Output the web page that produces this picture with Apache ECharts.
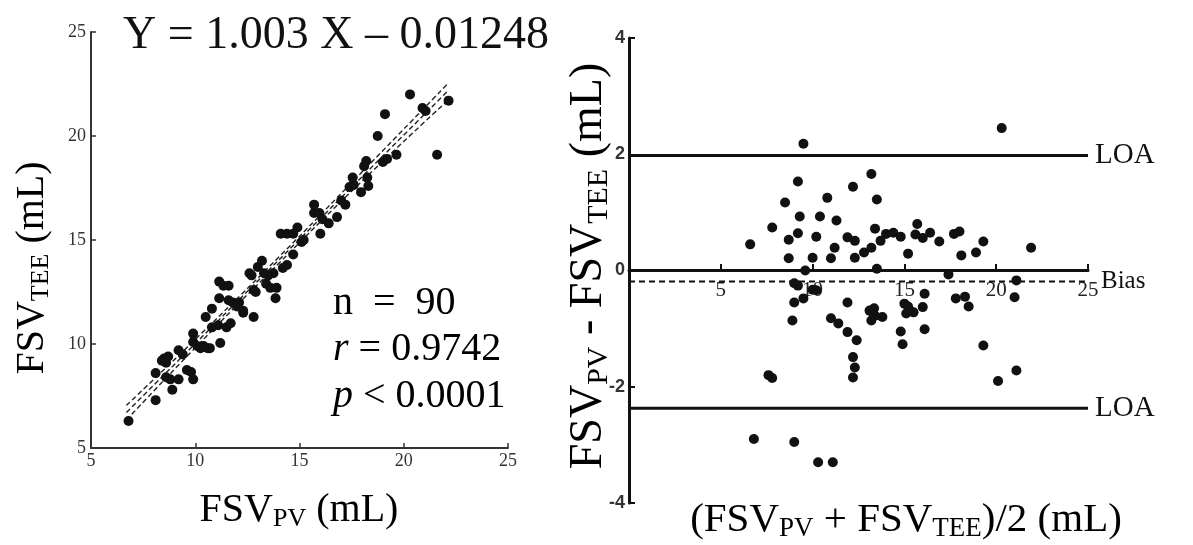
<!DOCTYPE html>
<html><head><meta charset="utf-8">
<script src="https://cdn.jsdelivr.net/npm/echarts@6/dist/echarts.min.js"></script>
<style>html,body{margin:0;padding:0;background:#fff}#c{width:1193px;height:545px}</style>
</head><body><div id="c"></div>
<script>
const serif = "'Liberation Serif','Times New Roman',serif";
const sans = "'Liberation Sans',Arial,sans-serif";

// ---- Left panel: FSV_PV vs FSV_TEE ----
const pvValues = [6.8,8.1,8.9,8.1,8.6,8.8,9.2,9.9,9.6,9.8,8.5,8.7,8.6,9.2,9.4,9.9,9.9,10.1,10.25,10.6,
  10.7,11.2,10.5,10.8,11.1,11.5,10.8,11.15,11.15,11.35,11.6,11.6,11.8,12.0,12.1,12.3,12.3,12.8,12.8,12.6,
  12.7,13.0,13.2,13.5,13.75,13.4,13.6,13.9,13.85,14.2,14.4,14.7,15.1,14.1,14.4,14.7,14.9,16.0,16.4,16.8,
  15.7,15.95,15.7,17.2,17.95,17.4,17.6,18.3,17.55,18.25,18.1,18.2,19.0,19.65,21.6,18.75,19.1,20.9,21.05,20.3,
  22.15,8.4,10.4,11.7,13.3,15.2,12.9,16.1,17.0,19.2];
const teeValues = [6.3,7.3,7.8,8.6,8.4,8.3,8.3,8.3,8.75,8.65,9.3,9.4,9.1,9.7,9.5,10.5,10.1,9.9,9.8,9.8,
  9.8,10.05,11.3,10.8,10.9,10.8,11.7,12.2,13.0,12.8,12.8,12.1,12.0,11.8,12.0,11.6,11.5,11.3,12.6,13.4,
  13.3,13.7,14.0,13.3,13.4,12.9,12.7,12.7,12.2,13.65,13.8,14.3,14.9,15.3,15.3,15.3,15.6,15.3,15.8,16.1,
  16.3,16.3,16.7,16.7,17.3,17.55,17.65,17.6,18.0,18.0,18.55,18.8,18.75,19.1,19.1,20.0,21.05,21.35,21.2,22.0,
  21.7,9.2,9.9,11.0,13.4,15.0,12.5,16.0,16.9,18.9];
const fitX = [6.7, 22.1];
const fitY = [6.71, 22.15];
const bandX = [6.7, 10, 14, 18, 22.1];
const bandUpper = [7.05, 10.22, 14.17, 18.27, 22.5];
const bandLower = [6.35, 9.82, 13.87, 17.83, 21.7];
const leftTicks = [5, 10, 15, 20, 25];

// ---- Right panel: Bland-Altman ----
const baMean = [9.5,20.3,13.2,9.2,12.2,13.5,10.8,8.5,9.3,10.4,11.3,7.8,9.2,13.4,6.6,8.7,10.2,11.9,12.3,11.2,
  13.7,14.0,14.4,14.8,12.8,13.2,8.7,10.0,11.0,12.3,15.2,9.6,13.5,15.7,15.6,16.0,16.4,16.9,17.7,18.0,
  18.1,18.9,19.3,21.9,17.4,21.1,21.0,9.0,10.0,9.0,9.5,11.9,16.1,16.0,17.8,18.3,18.5,8.9,11.0,11.4,
  11.9,12.4,12.2,12.3,12.2,13.1,13.3,13.2,13.8,13.35,14.8,14.9,15.0,15.3,15.1,15.5,7.6,7.8,6.8,9.0,
  10.3,11.1,19.3,20.1,21.1,16.1,9.2,10.2,15.2,13.4];
const baDiff = [2.18,2.45,1.66,1.53,1.44,1.22,1.25,1.17,0.93,0.93,0.86,0.74,0.64,0.72,0.45,0.53,0.58,0.57,0.51,0.39,
  0.51,0.63,0.65,0.58,0.31,0.39,0.21,0.22,0.21,0.22,0.29,0.0,0.03,0.80,0.62,0.56,0.65,0.50,0.63,0.67,
  0.26,0.31,0.50,0.39,-0.07,-0.17,-0.46,-0.22,-0.33,-0.55,-0.48,-0.55,-0.40,-0.63,-0.48,-0.45,-0.62,-0.86,-0.82,-0.91,
  -1.06,-1.20,-1.49,-1.67,-1.84,-0.69,-0.74,-0.86,-0.80,-0.65,-1.05,-1.27,-0.57,-0.69,-0.74,-0.72,-1.80,-1.85,-2.90,-2.95,
  -3.30,-3.30,-1.29,-1.90,-1.72,-1.01,-0.26,-0.34,-0.62,-0.78];
const loaUpper = 1.98;
const biasValue = -0.19;
const loaLower = -2.37;
const rightXRange = [0, 25];
const rightYTicks = [-4, -2, 0, 2, 4];

const leftPts = pvValues.map((v, i) => [v, teeValues[i]]);
const rightPts = baMean.map((v, i) => [v, baDiff[i]]);
const band = arr => bandX.map((x, i) => [x, arr[i]]);
const hline = v => [[rightXRange[0], v], [rightXRange[1], v]];

const dashed = {color: '#222', width: 1.4, type: [5, 3]};
const dot = {color: '#111', opacity: 1};

const chart = echarts.init(document.getElementById('c'), null, {renderer: 'canvas'});
const bigRich = (s) => ({
  a: {fontFamily: serif, fontSize: s, lineHeight: s + 4, color: '#111'},
  s: {fontFamily: serif, fontSize: Math.round(s * 0.65), lineHeight: 13, verticalAlign: 'bottom', color: '#111'},
  i: {fontFamily: serif, fontSize: s, lineHeight: s + 4, fontStyle: 'italic', color: '#111'}
});

// right panel: grid 1 holds the data, grid 2 (top half, ending at y = 0) carries the x axis at zero
chart.setOption({
  animation: false,
  backgroundColor: '#fff',
  grid: [
    {left: 91, top: 32, width: 417, height: 416},
    {left: 629, top: 38, width: 459, height: 465},
    {left: 629, top: 38, width: 459, height: 232}
  ],
  xAxis: [
    {gridIndex: 0, type: 'value', min: leftTicks[0], max: leftTicks[leftTicks.length - 1], interval: 5,
     axisLine: {onZero: false, lineStyle: {color: '#333', width: 2}},
     axisTick: {inside: true, length: 5, lineStyle: {color: '#333', width: 1.5}},
     axisLabel: {fontFamily: serif, fontSize: 18, color: '#333', margin: 4},
     splitLine: {show: false}},
    {gridIndex: 1, type: 'value', min: rightXRange[0], max: rightXRange[1], show: false},
    {gridIndex: 2, type: 'value', min: rightXRange[0], max: rightXRange[1], interval: 5, position: 'bottom',
     axisLine: {onZero: false, lineStyle: {color: '#111', width: 3}},
     axisTick: {inside: true, length: 6, lineStyle: {color: '#111', width: 2}},
     axisLabel: {fontFamily: serif, fontSize: 21, color: '#222', margin: 10,
                 formatter: v => (v === 0 ? '' : String(v))},
     splitLine: {show: false}}
  ],
  yAxis: [
    {gridIndex: 0, type: 'value', min: leftTicks[0], max: leftTicks[leftTicks.length - 1], interval: 5,
     axisLine: {onZero: false, lineStyle: {color: '#333', width: 2}},
     axisTick: {inside: true, length: 5, lineStyle: {color: '#333', width: 1.5}},
     axisLabel: {fontFamily: serif, fontSize: 18, color: '#333', margin: 5},
     splitLine: {show: false}},
    {gridIndex: 1, type: 'value', min: rightYTicks[0], max: rightYTicks[rightYTicks.length - 1], interval: 2,
     axisLine: {onZero: false, lineStyle: {color: '#111', width: 3}},
     axisTick: {inside: true, length: 6, lineStyle: {color: '#111', width: 2}},
     axisLabel: {fontFamily: sans, fontSize: 18, fontWeight: 'bold', color: '#333', margin: 4},
     splitLine: {show: false}},
    {gridIndex: 2, type: 'value', min: 0, max: rightYTicks[rightYTicks.length - 1], show: false}
  ],
  series: [
    {type: 'line', xAxisIndex: 0, yAxisIndex: 0, data: band(bandUpper), smooth: true, symbol: 'none', lineStyle: dashed, z: 3},
    {type: 'line', xAxisIndex: 0, yAxisIndex: 0, data: band(bandLower), smooth: true, symbol: 'none', lineStyle: dashed, z: 3},
    {type: 'line', xAxisIndex: 0, yAxisIndex: 0, data: fitX.map((x, i) => [x, fitY[i]]), symbol: 'none', lineStyle: dashed, z: 3},
    {type: 'scatter', xAxisIndex: 0, yAxisIndex: 0, data: leftPts, symbolSize: 10, itemStyle: dot, z: 4},

    {type: 'line', xAxisIndex: 1, yAxisIndex: 1, data: hline(loaUpper), symbol: 'none',
     lineStyle: {color: '#111', width: 3}, z: 2,
     endLabel: {show: true, formatter: 'LOA', fontFamily: serif, fontSize: 29, color: '#111', distance: 7}},
    {type: 'line', xAxisIndex: 1, yAxisIndex: 1, data: hline(loaLower), symbol: 'none',
     lineStyle: {color: '#111', width: 3}, z: 2,
     endLabel: {show: true, formatter: 'LOA', fontFamily: serif, fontSize: 29, color: '#111', distance: 7}},
    {type: 'line', xAxisIndex: 1, yAxisIndex: 1, data: hline(biasValue), symbol: 'none',
     lineStyle: {color: '#111', width: 2, type: [6, 4]}, z: 2,
     endLabel: {show: true, formatter: 'Bias', fontFamily: serif, fontSize: 25, color: '#111', distance: 13}},
    {type: 'scatter', xAxisIndex: 1, yAxisIndex: 1, data: rightPts, symbolSize: 10, itemStyle: dot, z: 4}
  ],
  graphic: [
    {type: 'text', x: 336, y: 36, style: {text: 'Y = 1.003 X – 0.01248', fontFamily: serif, fontSize: 46,
      fill: '#111', align: 'center', verticalAlign: 'middle'}},
    {type: 'text', x: 333, y: 303, style: {text: '{a|n\u2002=\u200290}', rich: bigRich(40), align: 'left', verticalAlign: 'middle'}},
    {type: 'text', x: 333, y: 349, style: {text: '{i|r}{a| = 0.9742}', rich: bigRich(40), align: 'left', verticalAlign: 'middle'}},
    {type: 'text', x: 333, y: 396, style: {text: '{i|p}{a| < 0.0001}', rich: bigRich(40), align: 'left', verticalAlign: 'middle'}},
    {type: 'text', x: 299, y: 510, style: {text: '{a|FSV}{s|PV}{a| (mL)}', rich: bigRich(40), align: 'center', verticalAlign: 'middle'}},
    {type: 'text', x: 32, y: 268, rotation: Math.PI / 2,
     style: {text: '{a|FSV}{s|TEE}{a| (mL)}', rich: bigRich(40), align: 'center', verticalAlign: 'middle'}},
    {type: 'text', x: 589, y: 266, rotation: Math.PI / 2,
     style: {text: '{a|FSV}{s|PV}{a| - FSV}{s|TEE}{a| (mL)}', rich: bigRich(46), align: 'center', verticalAlign: 'middle'}},
    {type: 'text', x: 906, y: 520,
     style: {text: '{a|(FSV}{s|PV}{a| + FSV}{s|TEE}{a|)/2 (mL)}', rich: bigRich(41), align: 'center', verticalAlign: 'middle'}}
  ]
});
</script></body></html>
